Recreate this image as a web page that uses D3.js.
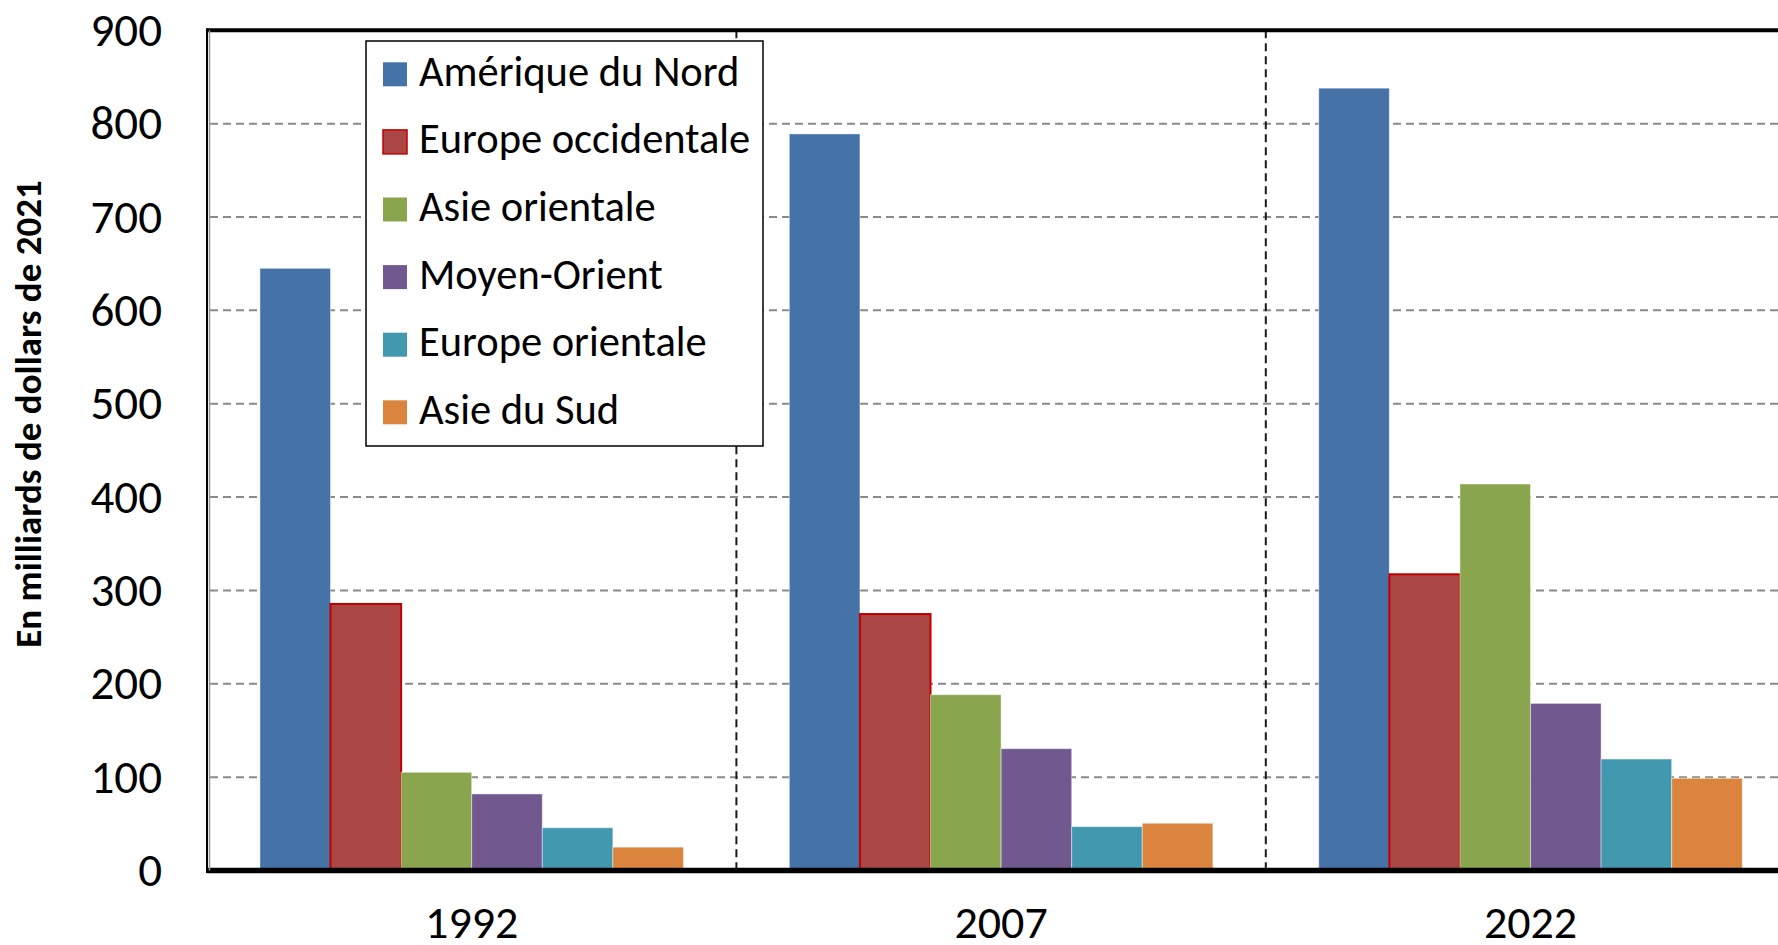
<!DOCTYPE html>
<html>
<head>
<meta charset="utf-8">
<script src="https://cdn.jsdelivr.net/npm/d3@7"></script>
<style>
  body { margin: 0; background: #fff; overflow: hidden; }
  svg { display: block; font-family: Carlito, Calibri, Lato, sans-serif; }
</style>
</head>
<body>
<svg></svg>
<script>
// data (milliards de dollars de 2021)
var years = ['1992', '2007', '2022'];
var regions = ['Amérique du Nord', 'Europe occidentale', 'Asie orientale', 'Moyen-Orient', 'Europe orientale', 'Asie du Sud'];
var ameriqueNord = [645, 789, 838];
var europeOcc = [285.5, 274.7, 317.3];
var asieOrient = [105.2, 188.3, 414];
var moyenOrient = [82, 130.5, 179];
var europeOrient = [45.8, 47, 119.4];
var asieSud = [25, 50.6, 98.8];
var yTicks = [0, 100, 200, 300, 400, 500, 600, 700, 800, 900];

var seriesValues = [ameriqueNord, europeOcc, asieOrient, moyenOrient, europeOrient, asieSud];
var colors = ['#4572A7', '#AA4644', '#89A54E', '#71588F', '#4198AF', '#DB843D'];

var W = 1778, H = 945;
var plotLeft = 207, plotTop = 30.3, plotBottom = 870.5;
var catWidth = 529.4;

let svg = d3.select('svg').attr('width', W).attr('height', H);

var x0 = d3.scaleBand().domain(years).range([plotLeft, plotLeft + catWidth * years.length]).padding(0);
var x1 = d3.scaleBand().domain(regions).range([0, x0.bandwidth()]).paddingInner(0).paddingOuter(0.75);
var y = d3.scaleLinear().domain([0, 900]).range([plotBottom, plotTop]);

// horizontal grid:
svg.append('g')
	.selectAll('line')
	.data(yTicks.filter((t) => t > 0 && t < 900))
	.enter()
	.append('line')
	.attr('x1', plotLeft + 3)
	.attr('x2', W)
	.attr('y1', (d) => y(d))
	.attr('y2', (d) => y(d))
	.attr('stroke', '#8a8a8a')
	.attr('stroke-width', 2)
	.attr('stroke-dasharray', '8,5');

// category separators:
svg.append('g')
	.selectAll('line')
	.data(years.slice(1))
	.enter()
	.append('line')
	.attr('x1', (d) => x0(d))
	.attr('x2', (d) => x0(d))
	.attr('y1', plotTop)
	.attr('y2', plotBottom)
	.attr('stroke', '#1a1a1a')
	.attr('stroke-width', 2)
	.attr('stroke-dasharray', '8,5');

// bars:
var groups = svg.append('g')
	.selectAll('g')
	.data(years)
	.enter()
	.append('g')
	.attr('transform', (d) => 'translate(' + x0(d) + ',0)');

groups.selectAll('rect')
	.data((yr, i) => regions.map((r, k) => ({ region: r, k: k, value: seriesValues[k][i] })))
	.enter()
	.append('rect')
	.attr('x', (d) => x1(d.region))
	.attr('width', x1.bandwidth())
	.attr('y', (d) => y(d.value))
	.attr('height', (d) => y(0) - y(d.value))
	.attr('fill', (d) => colors[d.k])
	.attr('stroke', (d) => (d.k == 1 ? '#C00000' : 'rgba(255,255,255,0.45)'))
	.attr('stroke-width', (d) => (d.k == 1 ? 2 : 1));

// frame:
svg.append('line').attr('x1', plotLeft).attr('x2', W).attr('y1', plotTop).attr('y2', plotTop)
	.attr('stroke', '#000').attr('stroke-width', 4);
svg.append('line').attr('x1', plotLeft).attr('x2', W).attr('y1', plotBottom).attr('y2', plotBottom)
	.attr('stroke', '#000').attr('stroke-width', 5.5);
svg.append('line').attr('x1', plotLeft + 2.5).attr('x2', plotLeft + 2.5).attr('y1', plotTop).attr('y2', plotBottom)
	.attr('stroke', '#999').attr('stroke-width', 1.5);
svg.append('line').attr('x1', plotLeft).attr('x2', plotLeft).attr('y1', plotTop - 2).attr('y2', plotBottom + 2.5)
	.attr('stroke', '#000').attr('stroke-width', 2);

// y axis labels:
var yAxis = svg.append('g')
	.attr('transform', 'translate(' + plotLeft + ',0)')
	.call(d3.axisLeft(y).tickValues(yTicks).tickSize(0).tickPadding(45));
yAxis.select('.domain').remove();
yAxis.selectAll('text')
	.attr('font-family', 'Carlito, Calibri, Lato, sans-serif')
	.attr('font-size', 47)
	.attr('fill', '#000');

// x axis labels:
var xAxis = svg.append('g')
	.attr('transform', 'translate(0,' + plotBottom + ')')
	.call(d3.axisBottom(x0).tickSize(0).tickPadding(35));
xAxis.select('.domain').remove();
xAxis.selectAll('text')
	.attr('font-family', 'Carlito, Calibri, Lato, sans-serif')
	.attr('font-size', 46)
	.attr('fill', '#000');

// y title:
svg.append('text')
	.attr('transform', 'translate(41,414) rotate(-90)')
	.attr('text-anchor', 'middle')
	.attr('font-size', 37)
	.attr('font-weight', 'bold')
	.text('En milliards de dollars de 2021');

// legend:
var legend = svg.append('g').attr('transform', 'translate(366,41)');
legend.append('rect')
	.attr('width', 397)
	.attr('height', 405)
	.attr('fill', '#fff')
	.attr('stroke', '#000')
	.attr('stroke-width', 1.5);

var items = legend.selectAll('.item')
	.data(regions)
	.enter()
	.append('g')
	.attr('class', 'item')
	.attr('transform', (d, i) => 'translate(17,' + (21.3 + i * 67.6) + ')');

items.append('rect')
	.attr('width', 24)
	.attr('height', 24)
	.attr('fill', (d, i) => colors[i])
	.attr('stroke', (d, i) => (i == 1 ? '#C00000' : 'none'))
	.attr('stroke-width', 1.5);

items.append('text')
	.attr('x', 36)
	.attr('y', 23.5)
	.attr('font-size', 42.5)
	.text((d) => d);
</script>
</body>
</html>
